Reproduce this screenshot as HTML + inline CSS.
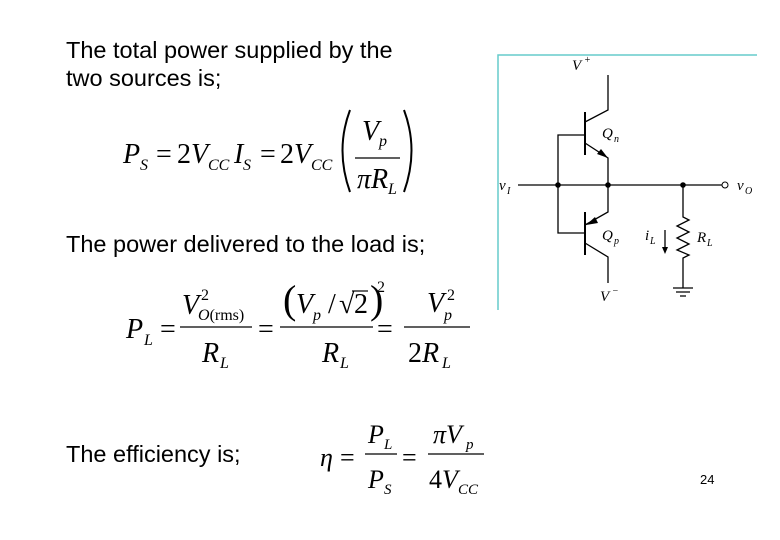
<!DOCTYPE html>
<html><head><meta charset="utf-8"><style>
html,body{margin:0;padding:0;background:#fff;}
svg{display:block}
.t{font-family:"Liberation Sans",sans-serif;font-size:23.5px;fill:#000}
.m{font-family:"Liberation Serif",serif;fill:#000}
.i{font-style:italic}
</style></head><body>
<svg width="780" height="540" viewBox="0 0 780 540" xmlns="http://www.w3.org/2000/svg">
<text class="t" x="66" y="58">The total power supplied by the</text>
<text class="t" x="66" y="86">two sources is;</text>
<text class="t" x="66" y="252">The power delivered to the load is;</text>
<text class="t" x="66" y="462">The efficiency is;</text>
<text x="700" y="484" font-family="Liberation Sans" font-size="13">24</text>

<!-- Eq1 -->
<g class="m" font-size="28">
<text x="123" y="163" class="i">P</text><text x="140" y="170" font-size="16" class="i">S</text>
<text x="156" y="163">=</text>
<text x="177" y="163">2<tspan class="i">V</tspan></text><text x="208" y="170" font-size="16" class="i">CC</text>
<text x="234" y="163" class="i">I</text><text x="243" y="170" font-size="16" class="i">S</text>
<text x="260" y="163">=</text>
<text x="280" y="163">2<tspan class="i">V</tspan></text><text x="311" y="170" font-size="16" class="i">CC</text>
<text x="362" y="140" class="i">V</text><text x="379" y="146" font-size="16" class="i">p</text>
<text x="357" y="188" class="i">πR</text><text x="388" y="194" font-size="16" class="i">L</text>
</g>
<line x1="355" y1="158" x2="400" y2="158" stroke="#000" stroke-width="1.3"/>
<path d="M350,110 Q335,150 350,192" fill="none" stroke="#000" stroke-width="2"/>
<path d="M404,110 Q419,150 404,192" fill="none" stroke="#000" stroke-width="2"/>

<!-- Eq2 -->
<g class="m" font-size="28">
<text x="126" y="338" class="i">P</text><text x="144" y="345" font-size="16" class="i">L</text>
<text x="160" y="338">=</text>
<text x="182" y="314" class="i">V</text><text x="201" y="300" font-size="16">2</text><text x="198" y="320" font-size="16"><tspan class="i">O</tspan>(rms)</text>
<text x="202" y="362" class="i">R</text><text x="220" y="368" font-size="16" class="i">L</text>
<text x="258" y="338">=</text>
<text x="283" y="313" font-size="40">(</text>
<text x="296" y="313" class="i">V</text><text x="313" y="320" font-size="16" class="i">p</text>
<text x="328" y="313">/</text>
<text x="339" y="313">√</text>
<text x="354" y="313">2</text>
<text x="370" y="313" font-size="40">)</text>
<text x="377" y="292" font-size="16">2</text>
<text x="322" y="362" class="i">R</text><text x="340" y="368" font-size="16" class="i">L</text>
<text x="377" y="338">=</text>
<text x="427" y="312" class="i">V</text><text x="447" y="300" font-size="16">2</text><text x="444" y="320" font-size="16" class="i">p</text>
<text x="408" y="362">2<tspan class="i">R</tspan></text><text x="442" y="368" font-size="16" class="i">L</text>
</g>
<line x1="180" y1="327" x2="252" y2="327" stroke="#000" stroke-width="1.3"/>
<line x1="280" y1="327" x2="373" y2="327" stroke="#000" stroke-width="1.3"/>
<line x1="404" y1="327" x2="470" y2="327" stroke="#000" stroke-width="1.3"/>
<line x1="352" y1="291" x2="368" y2="291" stroke="#000" stroke-width="1.2"/>

<!-- Eq3 -->
<g class="m" font-size="26">
<text x="320" y="466" class="i">η</text>
<text x="340" y="466">=</text>
<text x="368" y="443" class="i">P</text><text x="384" y="449" font-size="15" class="i">L</text>
<text x="368" y="488" class="i">P</text><text x="384" y="494" font-size="15" class="i">S</text>
<text x="402" y="466">=</text>
<text x="433" y="443" class="i">πV</text><text x="466" y="449" font-size="15" class="i">p</text>
<text x="429" y="488">4<tspan class="i">V</tspan></text><text x="458" y="494" font-size="15" class="i">CC</text>
</g>
<line x1="365" y1="454" x2="397" y2="454" stroke="#000" stroke-width="1.3"/>
<line x1="428" y1="454" x2="484" y2="454" stroke="#000" stroke-width="1.3"/>

<!-- Circuit -->
<path d="M498,310 V55 H757" fill="none" stroke="#66cccc" stroke-width="1.5"/>
<g stroke="#000" stroke-width="1.3" fill="none">
<path d="M608,75 V110 L585,122"/>
<line x1="585" y1="112" x2="585" y2="155" stroke-width="2"/>
<path d="M585,143 L608,158 V212 L585,225"/>
<path d="M585,135 H558 V233 H585"/>
<line x1="585" y1="212" x2="585" y2="255" stroke-width="2"/>
<path d="M585,243 L608,257 V283"/>
<path d="M518,185 H683 H722"/>
<path d="M683,185 V217 L689,220 L677,226 L689,232 L677,238 L689,244 L677,250 L689,255 L683,258 V288"/>
<path d="M673,288 H693 M676,292 H690 M680,296 H686"/>
<path d="M665,230 V250"/>
</g>
<polygon points="608,158 597,154 601,149" fill="#000"/>
<polygon points="586,225 595,217 598,223" fill="#000"/>
<polygon points="665,254 662,247 668,247" fill="#000"/>
<circle cx="558" cy="185" r="2.8"/><circle cx="608" cy="185" r="2.8"/><circle cx="683" cy="185" r="2.8"/>
<circle cx="725" cy="185" r="3" fill="#fff" stroke="#000" stroke-width="1"/>
<g class="m i" font-size="15">
<text x="572" y="70">V</text><text x="584" y="63" font-size="10">+</text>
<text x="602" y="138">Q</text><text x="614" y="142" font-size="10">n</text>
<text x="602" y="240">Q</text><text x="614" y="244" font-size="10">p</text>
<text x="600" y="301">V</text><text x="612" y="294" font-size="10">−</text>
<text x="499" y="190">v</text><text x="507" y="194" font-size="10">I</text>
<text x="737" y="190">v</text><text x="745" y="194" font-size="10">O</text>
<text x="645" y="240">i</text><text x="650" y="244" font-size="10">L</text>
<text x="697" y="242">R</text><text x="707" y="246" font-size="10">L</text>
</g>
</svg>
</body></html>
